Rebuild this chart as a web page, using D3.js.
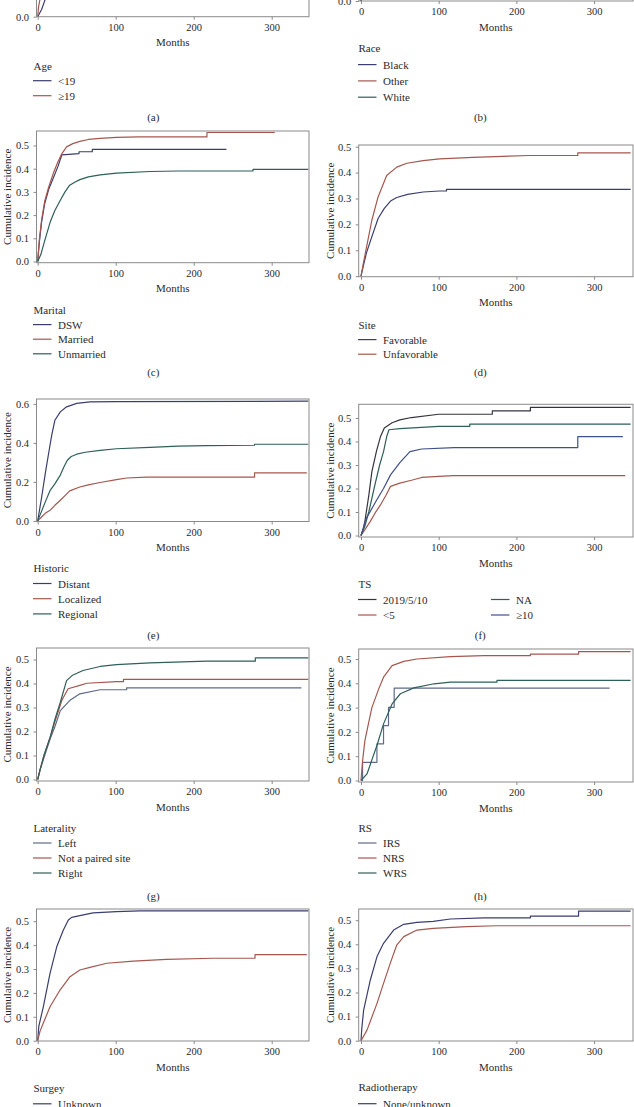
<!DOCTYPE html>
<html><head><meta charset="utf-8">
<script src="https://cdn.jsdelivr.net/npm/d3@7"></script>
<style>
body{margin:0;background:#fff}
svg{display:block}
text{font-family:"Liberation Serif","DejaVu Serif",serif;fill:#2a2a2a}
</style>
</head><body>
<svg id="chart" width="634" height="1107"></svg>
<script>
// ---------- data (months, cumulative incidence) ----------
const xTickValues = [0, 100, 200, 300];

const ageLabels = ["<19", "\u226519"];
const ageLt19 = [[0,0],[5,0.03],[9.4,0.07],[15,0.12],[20,0.17],[30,0.25],[40,0.3],[60,0.33],[100,0.345],[347,0.35]];
const ageGe19 = [[0,0],[1,0.04],[2.8,0.07],[5,0.12],[8,0.2],[15,0.3],[25,0.4],[40,0.47],[60,0.49],[100,0.5],[347,0.51]];

const raceLabels = ["Black", "Other", "White"];
const raceBlack = [[0,0],[5,0.1],[15,0.25],[30,0.38],[50,0.43],[100,0.45],[300,0.46]];
const raceOther = [[0,0],[5,0.08],[15,0.2],[30,0.32],[50,0.38],[100,0.4],[330,0.41]];
const raceWhite = [[0,0],[5,0.09],[15,0.22],[30,0.35],[50,0.41],[100,0.43],[347,0.44]];

const maritalLabels = ["DSW", "Married", "Unmarried"];
const maritalDSW = [[0,0],[2,0.08],[5,0.17],[9,0.25],[14,0.31],[20,0.36],[26,0.41],[31,0.46],[53,0.465],[53,0.473],[70,0.473],[70,0.483],[242,0.483]];
const maritalMarried = [[0,0],[2,0.09],[5,0.18],[9,0.26],[14,0.32],[20,0.38],[26,0.43],[31,0.465],[37,0.494],[45,0.508],[54,0.518],[65,0.526],[80,0.531],[101,0.535],[130,0.537],[217,0.537],[217,0.556],[304,0.556]];
const maritalUnmarried = [[0,0],[4,0.03],[9,0.09],[16,0.17],[22,0.22],[29,0.264],[35,0.3],[41,0.329],[48,0.343],[54,0.353],[65,0.365],[80,0.373],[101,0.381],[144,0.388],[180,0.39],[276,0.39],[276,0.397],[347,0.397]];

const siteLabels = ["Favorable", "Unfavorable"];
const siteFavorable = [[0,0],[3,0.04],[7,0.09],[14,0.153],[22,0.223],[30,0.262],[38,0.29],[46,0.304],[60,0.316],[80,0.325],[101,0.329],[110,0.329],[110,0.335],[347,0.335]];
const siteUnfavorable = [[0,0],[3,0.05],[7,0.11],[14,0.217],[22,0.306],[33,0.389],[46,0.421],[59,0.436],[80,0.446],[101,0.453],[144,0.459],[217,0.466],[279,0.466],[279,0.476],[347,0.476]];

const historicLabels = ["Distant", "Localized", "Regional"];
const historicDistant = [[0,0],[5,0.12],[10,0.25],[15,0.37],[18,0.44],[22,0.516],[29,0.559],[37,0.585],[50,0.603],[67,0.61],[100,0.612],[347,0.614]];
const historicLocalized = [[0,0],[5,0.02],[10,0.04],[16,0.055],[22,0.08],[29,0.106],[35,0.13],[41,0.154],[54,0.174],[65,0.185],[80,0.197],[101,0.212],[114,0.22],[140,0.224],[278,0.224],[278,0.246],[345,0.246]];
const historicRegional = [[0,0],[5,0.05],[10,0.1],[16,0.157],[22,0.19],[29,0.235],[34,0.28],[38,0.311],[43,0.33],[50,0.342],[61,0.352],[80,0.362],[101,0.37],[144,0.377],[180,0.383],[217,0.386],[278,0.388],[278,0.393],[347,0.393]];

const tsLabels = ["2019/5/10", "<5", "NA", "\u226510"];
const ts2019510 = [[0,0],[3,0.03],[5,0.06],[10,0.17],[14,0.272],[20,0.36],[25,0.42],[30,0.457],[40,0.48],[50,0.492],[65,0.502],[100,0.516],[169,0.516],[169,0.53],[218,0.53],[218,0.545],[347,0.545]];
const tsLt5 = [[0,0],[5,0.025],[12,0.06],[18,0.095],[25,0.13],[32,0.17],[38,0.209],[50,0.223],[65,0.235],[78,0.247],[100,0.252],[119,0.255],[340,0.255]];
const tsNA = [[0,0],[5,0.04],[10,0.1],[18,0.217],[24,0.3],[29,0.357],[33,0.42],[36,0.45],[50,0.455],[100,0.464],[140,0.464],[140,0.474],[347,0.474]];
const tsGe10 = [[0,0],[7,0.074],[20,0.15],[29,0.2],[38,0.258],[50,0.31],[63,0.357],[78,0.368],[120,0.374],[279,0.374],[279,0.421],[337,0.421]];

const lateralityLabels = ["Left", "Not a paired site", "Right"];
const lateralityLeft = [[0,0],[3,0.04],[8,0.09],[16,0.17],[22,0.22],[29,0.287],[41,0.329],[54,0.357],[80,0.374],[114,0.374],[114,0.382],[338,0.382]];
const lateralityNotPaired = [[0,0],[3,0.04],[8,0.1],[16,0.176],[22,0.24],[31,0.33],[39,0.378],[54,0.392],[63,0.401],[101,0.408],[110,0.408],[110,0.417],[347,0.417]];
const lateralityRight = [[0,0],[3,0.04],[8,0.1],[16,0.176],[22,0.25],[29,0.322],[37,0.412],[44,0.433],[58,0.454],[80,0.471],[101,0.479],[144,0.486],[217,0.493],[279,0.493],[279,0.507],[347,0.507]];

const rsLabels = ["IRS", "NRS", "WRS"];
const rsIRS = [[0,0],[2,0],[2,0.075],[20.5,0.075],[20.5,0.151],[29,0.151],[29,0.226],[35.4,0.226],[35.4,0.301],[42.7,0.301],[42.7,0.38],[320,0.38]];
const rsNRS = [[0,0],[2,0.08],[5,0.164],[10,0.24],[14,0.3],[22.7,0.376],[29,0.425],[40,0.473],[55,0.49],[72,0.5],[115,0.51],[158,0.514],[218,0.514],[218,0.52],[280,0.52],[280,0.53],[347,0.53]];
const rsWRS = [[0,0],[7.7,0.027],[14,0.085],[20.5,0.144],[29,0.233],[40,0.315],[50.6,0.357],[68,0.381],[94,0.398],[115,0.405],[175,0.405],[175,0.412],[347,0.412]];

const surgeryLabels = ["Unknown"];
const surgeryUnknown = [[0,0],[1.4,0.06],[7.2,0.142],[15.8,0.282],[24.4,0.393],[32.9,0.463],[39.3,0.505],[43.6,0.516],[54,0.523],[71,0.535],[101,0.54],[131,0.543],[347,0.543]];
const surgeryOther = [[0,0],[3,0.04],[8,0.08],[15.8,0.142],[28.6,0.212],[41.4,0.268],[54,0.296],[67,0.307],[88.5,0.324],[122.6,0.333],[165,0.34],[225,0.345],[278.6,0.345],[278.6,0.36],[345,0.36]];

const radioLabels = ["None/unknown"];
const radioNone = [[0,0],[1,0.05],[3.4,0.127],[12,0.252],[20.6,0.349],[29,0.404],[42,0.459],[55,0.483],[72,0.491],[93,0.495],[115,0.505],[158,0.51],[218,0.51],[218,0.517],[280,0.517],[280,0.538],[347,0.538]];
const radioOther = [[0,0],[7.7,0.044],[20.6,0.155],[29,0.238],[37.6,0.321],[46,0.397],[55,0.432],[72,0.459],[93,0.466],[136,0.473],[175,0.477],[347,0.477]];

const yTicks05 = [0, 0.1, 0.2, 0.3, 0.4, 0.5];
const yTicks06 = [0, 0.2, 0.4, 0.6];

// ---------- styling / layout ----------
const navy = "#3a3e6e", red = "#a5574f", teal = "#2e5f58", dark = "#34343e", blue = "#40508a", grayBlue = "#5d6a88";
const cols = [
  {left: 36.5, right: 309, x0: 37.7, ppm: 0.78, legX: 33, subX: 153.3, yLabX: 7},
  {left: 358.7, right: 633, x0: 361, ppm: 0.777, legX: 358, subX: 480.3, yLabX: 329.7}
];

const panels = [
  {sub:"(a)", col:0, top:-115, bottom:16.7, zero:16.7, per:24, ticks:yTicks05, title:"Age", labels:ageLabels, series:[ageLt19, ageGe19], colors:[navy, red], legY:65.7, step:15, subY:117.3},
  {sub:"(b)", col:1, top:-131, bottom:1, zero:1, per:24, ticks:yTicks05, title:"Race", labels:raceLabels, series:[raceBlack, raceOther, raceWhite], colors:[navy, red, teal], legY:48.3, step:16.3, subY:116.7},
  {sub:"(c)", col:0, top:131, bottom:262.7, zero:261.5, per:23.2, ticks:yTicks05, title:"Marital", labels:maritalLabels, series:[maritalDSW, maritalMarried, maritalUnmarried], colors:[navy, red, teal], legY:310, step:14.6, subY:372.3},
  {sub:"(d)", col:1, top:145, bottom:276.7, zero:276.2, per:25.9, ticks:yTicks05, title:"Site", labels:siteLabels, series:[siteFavorable, siteUnfavorable], colors:[navy, red], legY:325, step:14.6, subY:372.3},
  {sub:"(e)", col:0, top:399, bottom:521.5, zero:520.9, per:19.5, ticks:yTicks06, title:"Historic", labels:historicLabels, series:[historicDistant, historicLocalized, historicRegional], colors:[navy, red, teal], legY:568.3, step:15.2, subY:635},
  {sub:"(f)", col:1, top:404.3, bottom:537, zero:535.5, per:23.5, ticks:yTicks05, title:"TS", labels:tsLabels, series:[ts2019510, tsLt5, tsNA, tsGe10], colors:[dark, red, teal, blue], legY:584, step:15.5, subY:635, twoCols:true},
  {sub:"(g)", col:0, top:648, bottom:781, zero:779.5, per:24, ticks:yTicks05, title:"Laterality", labels:lateralityLabels, series:[lateralityLeft, lateralityNotPaired, lateralityRight], colors:[grayBlue, red, teal], legY:828, step:15, subY:895.7},
  {sub:"(h)", col:1, top:649, bottom:782, zero:780.5, per:24.3, ticks:yTicks05, title:"RS", labels:rsLabels, series:[rsIRS, rsNRS, rsWRS], colors:[grayBlue, red, teal], legY:828, step:15, subY:895.7},
  {sub:"(i)", col:0, top:909, bottom:1041, zero:1040.7, per:23.9, ticks:yTicks05, title:"Surgey", labels:surgeryLabels, series:[surgeryUnknown, surgeryOther], colors:[navy, red], legY:1088.3, step:15.5, subY:1140},
  {sub:"(j)", col:1, top:909, bottom:1041, zero:1040.7, per:24.1, ticks:yTicks05, title:"Radiotherapy", labels:radioLabels, series:[radioNone, radioOther], colors:[navy, red], legY:1086.7, step:17, subY:1140}
];

const svg = d3.select("#chart");
const axisColor = "#8a8a8a";

panels.forEach((p, i) => {
  const c = cols[p.col];
  const x = d3.scaleLinear()
    .domain([(c.left - c.x0) / c.ppm, (c.right - c.x0) / c.ppm])
    .range([c.left, c.right]);
  const y = d3.scaleLinear()
    .domain([(p.zero - p.bottom) / (p.per * 10), (p.zero - p.top) / (p.per * 10)])
    .range([p.bottom, p.top]);
  const g = svg.append("g");

  const clipId = "clip" + i;
  svg.append("clipPath").attr("id", clipId).append("rect")
    .attr("x", c.left).attr("y", p.top).attr("width", c.right - c.left).attr("height", p.bottom - p.top);

  // x axis
  const xa = g.append("g").attr("transform", `translate(0,${p.bottom})`)
    .call(d3.axisBottom(x).tickValues(xTickValues).tickSize(3).tickSizeOuter(0).tickPadding(4).tickFormat(d3.format("d")));
  xa.select(".domain").remove();
  xa.selectAll("line").attr("stroke", axisColor);
  xa.selectAll("text").attr("font-size", 10.5).attr("fill", "#2a2a2a").attr("font-family", "Liberation Serif");

  // y axis
  const ya = g.append("g").attr("transform", `translate(${c.left},0)`)
    .call(d3.axisLeft(y).tickValues(p.ticks).tickSize(3).tickSizeOuter(0).tickPadding(4.5).tickFormat(d3.format(".1f")));
  ya.select(".domain").remove();
  ya.selectAll("line").attr("stroke", axisColor);
  ya.selectAll("text").attr("font-size", 10.5).attr("fill", "#2a2a2a").attr("font-family", "Liberation Serif");

  // curves
  const line = d3.line().x(d => x(d[0])).y(d => y(d[1])).curve(d3.curveLinear);
  const cg = g.append("g").attr("clip-path", `url(#${clipId})`);
  p.series.forEach((s, k) => {
    cg.append("path").datum(s).attr("d", line)
      .attr("fill", "none").attr("stroke", p.colors[k]).attr("stroke-width", 1.2).attr("stroke-linejoin", "round");
  });

  // box
  g.append("rect").attr("x", c.left).attr("y", p.top)
    .attr("width", c.right - c.left).attr("height", p.bottom - p.top)
    .attr("fill", "none").attr("stroke", axisColor).attr("stroke-width", 1);

  // axis titles
  g.append("text").attr("x", (c.left + c.right) / 2).attr("y", p.bottom + 25.5)
    .attr("text-anchor", "middle").attr("dominant-baseline", "central").attr("font-size", 11).text("Months");
  g.append("text").attr("transform", `translate(${c.yLabX},${(p.top + p.bottom) / 2}) rotate(-90)`)
    .attr("text-anchor", "middle").attr("dominant-baseline", "central").attr("font-size", 11).text("Cumulative incidence");

  // legend
  g.append("text").attr("x", c.legX + 0.5).attr("y", p.legY).attr("dominant-baseline", "central")
    .attr("font-size", 11).text(p.title);
  p.labels.forEach((lab, k) => {
    let lx = c.legX, ly = p.legY + p.step * (k + 1);
    if (p.twoCols) {
      lx = c.legX + (k >= 2 ? 133 : 0);
      ly = p.legY + p.step * ((k % 2) + 1);
    }
    g.append("line").attr("x1", lx).attr("x2", lx + 18.5).attr("y1", ly).attr("y2", ly)
      .attr("stroke", p.colors[k]).attr("stroke-width", 1.2);
    g.append("text").attr("x", lx + 25).attr("y", ly).attr("dominant-baseline", "central")
      .attr("font-size", 11).text(lab);
  });

  // sub-figure label
  g.append("text").attr("x", c.subX).attr("y", p.subY).attr("text-anchor", "middle")
    .attr("dominant-baseline", "central").attr("font-size", 11).text(p.sub);
});

// drop texts that lie wholly outside the visible page (the reference is cropped there)
svg.selectAll("text").each(function () {
  const r = this.getBoundingClientRect();
  if (r.bottom <= 0 || r.top >= 1107) d3.select(this).remove();
});
</script>
</body></html>
